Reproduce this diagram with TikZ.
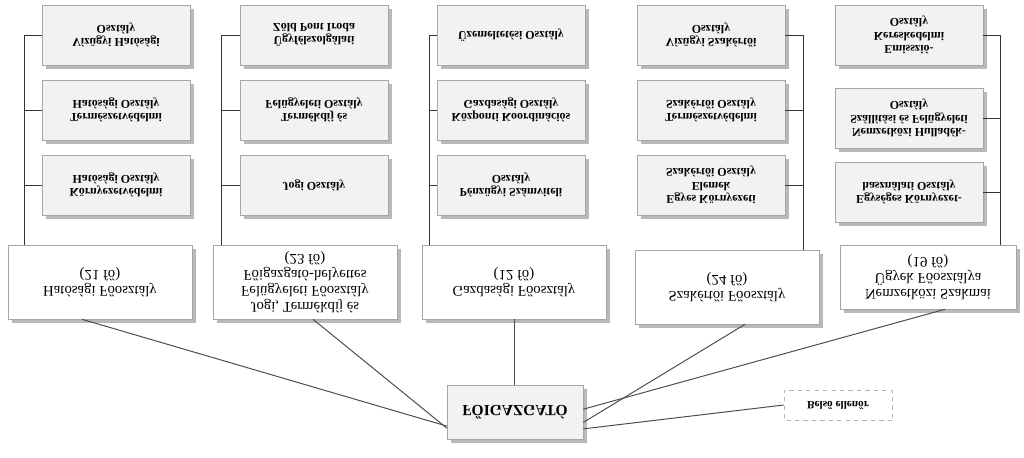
\documentclass[tikz,border=0pt]{standalone}
\usepackage{fontspec}
\setmainfont{Liberation Serif}
\usetikzlibrary{shadows}
\tikzset{
  box/.style={draw=gray!70, fill=gray!10, align=center, font=\bfseries\fontsize{8.5}{9.5}\selectfont,
    minimum width=3.7cm, minimum height=1.5cm, inner sep=2pt,
    drop shadow={shadow xshift=3pt, shadow yshift=-3pt, fill=gray!55, opacity=1}},
  mainbox/.style={box, fill=white, minimum width=4.6cm, minimum height=1.85cm, font=\fontsize{10.5}{11.5}\selectfont},
  bus/.style={draw=black!80, line width=0.7pt},
}
\begin{document}
\begin{tikzpicture}[x=0.025cm, y=0.025cm, yscale=-1, every node/.style={transform shape}]
  \useasboundingbox (0,0) rectangle (1024,458);
  % sub units, column 1
  \node[box] (vh) at (116,35) {Vízügyi Hatósági\\Osztály};
  \node[box] (th) at (116,110) {Természetvédelmi\\Hatósági Osztály};
  \node[box] (kh) at (116,185) {Környezetvédelmi\\Hatósági Osztály};
  % column 2
  \node[box] (zp) at (314,35) {Ügyfélszolgálati\\Zöld Pont Iroda};
  \node[box] (tf) at (314,110) {Termékdíj és\\Felügyeleti Osztály};
  \node[box] (jo) at (314,185) {Jogi Osztály};
  % column 3
  \node[box] (uo) at (511,35) {Üzemeltetési Osztály};
  \node[box] (kk) at (511,110) {Központi Koordinációs\\Gazdasági Osztály};
  \node[box] (psz) at (511,185) {Pénzügyi Számviteli\\Osztály};
  % column 4
  \node[box] (vsz) at (711,35) {Vízügyi Szakértői\\Osztály};
  \node[box] (tsz) at (711,110) {Természetvédelmi\\Szakértői Osztály};
  \node[box] (ek) at (711,185) {Egyes Környezeti\\Elemek\\Szakértői Osztály};
  % column 5
  \node[box] (em) at (909,35) {Emisszió-\\Kereskedelmi\\Osztály};
  \node[box] (nh) at (909,118) {Nemzetközi Hulladék-\\Szállítási és Felügyeleti\\Osztály};
  \node[box] (eg) at (909,192) {Egységes Környezet-\\használati Osztály};
  % main departments
  \node[mainbox] (hf) at (100,282) {Hatósági Főosztály\\(21 fő)};
  \node[mainbox] (jf) at (305,282) {Jogi, Termékdíj és\\Felügyeleti Főosztály\\Főigazgató-helyettes\\(23 fő)};
  \node[mainbox] (gf) at (514,282) {Gazdasági Főosztály\\(12 fő)};
  \node[mainbox] (sf) at (727,287) {Szakértői Főosztály\\(24 fő)};
  \node[mainbox, minimum width=4.4cm, minimum height=1.6cm] (nf) at (928,277) {Nemzetközi Szakmai\\Ügyek Főosztálya\\(19 fő)};
  % head
  \node[box, minimum width=3.4cm, minimum height=1.35cm, font=\bfseries\fontsize{11}{12}\selectfont] (fo) at (515,412) {FŐIGAZGATÓ};
  \node[draw=gray!60, dashed, fill=white, minimum width=2.7cm, minimum height=0.75cm, font=\bfseries\fontsize{8}{9}\selectfont] (be) at (838,405) {Belső ellenőr};
  % buses
  \draw[bus] (vh.west) -- ++(-17,0) coordinate (b1) -- (b1 |- hf.south);
  \draw[bus] (th.west) -- (th.west -| b1);
  \draw[bus] (kh.west) -- (kh.west -| b1);
  \draw[bus] (zp.west) -- ++(-18,0) coordinate (b2) -- (b2 |- jf.south);
  \draw[bus] (tf.west) -- (tf.west -| b2);
  \draw[bus] (jo.west) -- (jo.west -| b2);
  \draw[bus] (uo.west) -- ++(-7,0) coordinate (b3) -- (b3 |- gf.south);
  \draw[bus] (kk.west) -- (kk.west -| b3);
  \draw[bus] (psz.west) -- (psz.west -| b3);
  \draw[bus] (vsz.east) -- ++(18,0) coordinate (b4) -- (b4 |- sf.south);
  \draw[bus] (tsz.east) -- (tsz.east -| b4);
  \draw[bus] (ek.east) -- (ek.east -| b4);
  \draw[bus] (em.east) -- ++(17,0) coordinate (b5) -- (b5 |- nf.south);
  \draw[bus] (nh.east) -- (nh.east -| b5);
  \draw[bus] (eg.east) -- (eg.east -| b5);
  % links to head
  \draw[bus, draw=black!70] (hf.north) ++(-18,0) -- ([yshift=10]fo.west);
  \draw[bus, draw=black!70] (jf.north) ++(8,0) -- ([yshift=-8]fo.north west);
  \draw[bus, draw=black!70] (gf.north) -- (gf.north |- fo.south);
  \draw[bus, draw=black!70] (sf.north) ++(18,0) -- ([yshift=-12]fo.north east);
  \draw[bus, draw=black!70] (nf.north) ++(17,0) -- ([yshift=-2]fo.east);
  \draw[bus, draw=black!70] ([yshift=12]fo.east) -- (be.west);
\end{tikzpicture}
\end{document}
